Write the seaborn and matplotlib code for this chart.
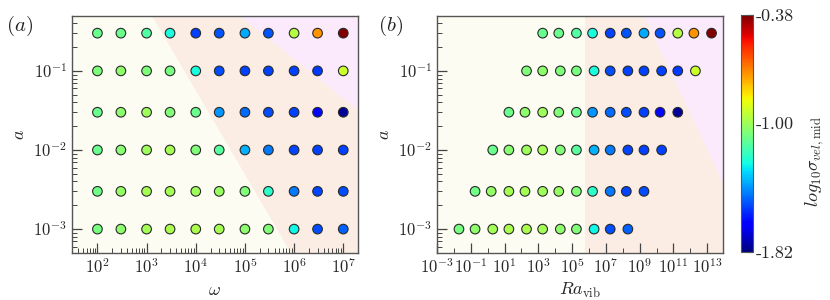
import numpy as np
import pandas as pd
import matplotlib
matplotlib.use("Agg")
import matplotlib.pyplot as plt
import seaborn as sns
from matplotlib.ticker import FixedLocator, FuncFormatter, NullFormatter
from matplotlib.colors import Normalize
from matplotlib.cm import ScalarMappable

# ---------------- data ----------------
omega = [1e2, 3e2, 1e3, 3e3, 1e4, 3e4, 1e5, 3e5, 1e6, 3e6, 1e7]
amp = [3e-1, 1e-1, 3e-2, 1e-2, 3e-3, 1e-3]

ra_row_03 = [1.8e3, 1.62e4, 1.8e5, 1.62e6, 1.8e7, 1.62e8, 1.8e9, 1.62e10, 1.8e11, 1.62e12, 1.8e13]
ra_row_01 = [2e2, 1.8e3, 2e4, 1.8e5, 2e6, 1.8e7, 2e8, 1.8e9, 2e10, 1.8e11, 2e12]
ra_row_003 = [1.8e1, 1.62e2, 1.8e3, 1.62e4, 1.8e5, 1.62e6, 1.8e7, 1.62e8, 1.8e9, 1.62e10, 1.8e11]
ra_row_001 = [2e0, 1.8e1, 2e2, 1.8e3, 2e4, 1.8e5, 2e6, 1.8e7, 2e8, 1.8e9, 2e10]
ra_row_0003 = [1.8e-1, 1.62e0, 1.8e1, 1.62e2, 1.8e3, 1.62e4, 1.8e5, 1.62e6, 1.8e7, 1.62e8, 1.8e9]
ra_row_0001 = [2e-2, 1.8e-1, 2e0, 1.8e1, 2e2, 1.8e3, 2e4, 1.8e5, 2e6, 1.8e7, 2e8]
ra_vib = [ra_row_03, ra_row_01, ra_row_003, ra_row_001, ra_row_0003, ra_row_0001]

sig_row_03 = [-1.13, -1.13, -1.17, -1.27, -1.55, -1.52, -1.40, -1.52, -1.00, -0.74, -0.38]
sig_row_01 = [-1.10, -1.07, -1.10, -1.11, -1.27, -1.53, -1.55, -1.55, -1.55, -1.56, -0.96]
sig_row_003 = [-1.13, -1.07, -1.04, -1.09, -1.13, -1.43, -1.49, -1.53, -1.55, -1.63, -1.79]
sig_row_001 = [-1.13, -1.08, -1.04, -1.03, -1.09, -1.16, -1.39, -1.47, -1.54, -1.55, -1.55]
sig_row_0003 = [-1.12, -1.06, -1.03, -1.03, -1.04, -1.05, -1.09, -1.24, -1.47, -1.54, -1.53]
sig_row_0001 = [-1.11, -1.07, -1.03, -1.02, -1.02, -1.03, -1.07, -1.09, -1.29, -1.53, -1.50]
sigma = [sig_row_03, sig_row_01, sig_row_003, sig_row_001, sig_row_0003, sig_row_0001]

vmin, vmax = -1.82, -0.38
cbar_ticks = [-1.82, -1.63, -1.43, -1.23, -1.035, -0.84, -0.64, -0.44, -0.38]
cbar_labels = ["-1.82", "", "", "", "-1.00", "", "", "", "-0.38"]

rows = []
for i, a in enumerate(amp):
    for j, w in enumerate(omega):
        rows.append({"omega": w, "a": a, "ra": ra_vib[i][j], "sigma": sigma[i][j]})
df = pd.DataFrame(rows)

# ---------------- style ----------------
sns.set_style("ticks")
plt.rcParams["mathtext.fontset"] = "cm"
plt.rcParams["font.family"] = ["DejaVu Serif"]
plt.rcParams["axes.unicode_minus"] = True

jet = matplotlib.colormaps["jet"]

fig = plt.figure(figsize=(8.3, 3.0), dpi=100)
axA = fig.add_axes([0.0864, 0.157, 0.345, 0.791])
axB = fig.add_axes([0.5265, 0.157, 0.345, 0.791])
cax = fig.add_axes([0.893, 0.16, 0.0145, 0.79])

col_yellow = "#fdfcf3"
col_salmon = "#fcede4"
col_violet = "#fbeafb"

norm = Normalize(vmin=vmin, vmax=vmax)
ylim = (5e-4, 0.5)

def sci(v, pos):
    e = int(round(np.log10(v)))
    return r"$10^{%d}$" % e

def style_axis(ax):
    ax.set_xscale("log")
    ax.set_yscale("log")
    for s in ax.spines.values():
        s.set_color("#555555")
        s.set_linewidth(1.0)
    ax.tick_params(which="both", direction="in", top=False, right=False,
                   color="#444444", labelsize=12)
    ax.tick_params(which="major", length=7, width=0.9)
    ax.tick_params(which="minor", length=3.5, width=0.7)
    ax.set_ylim(*ylim)
    ax.yaxis.set_major_locator(FixedLocator([1e-3, 1e-2, 1e-1]))
    ax.yaxis.set_major_formatter(FuncFormatter(sci))
    ym = [m * 10.0 ** e for e in (-4, -3, -2, -1) for m in range(2, 10)]
    ax.yaxis.set_minor_locator(FixedLocator(ym))
    ax.yaxis.set_minor_formatter(NullFormatter())

# ---------------- panel (a) ----------------
style_axis(axA)
xa = (30, 2e7)
axA.set_xlim(*xa)
axA.fill([xa[0], xa[0], 10**3.11, 10**5.94], [ylim[0], ylim[1], ylim[1], ylim[0]],
         color=col_yellow, lw=0, zorder=0)
axA.fill([10**3.11, xa[1], xa[1], 10**5.94], [ylim[1], ylim[1], ylim[0], ylim[0]],
         color=col_salmon, lw=0, zorder=0)
axA.fill([10**4.90, xa[1], xa[1]], [ylim[1], ylim[1], 10**-1.49],
         color=col_violet, lw=0, zorder=0)
sns.scatterplot(data=df, x="omega", y="a", hue="sigma", palette=jet, hue_norm=norm,
                s=48, edgecolor="#2a2a2a", linewidth=0.8, legend=False, ax=axA, zorder=3)
axA.set_xlim(*xa)
axA.set_ylim(*ylim)
axA.xaxis.set_major_locator(FixedLocator([1e2, 1e3, 1e4, 1e5, 1e6, 1e7]))
axA.xaxis.set_major_formatter(FuncFormatter(sci))
xm = [m * 10.0 ** e for e in range(1, 8) for m in range(2, 10)]
axA.xaxis.set_minor_locator(FixedLocator(xm))
axA.xaxis.set_minor_formatter(NullFormatter())
axA.set_xlabel(r"$\omega$", fontsize=13, labelpad=3)
axA.set_ylabel("$a$", fontsize=13, labelpad=4)
fig.text(0.024, 0.915, "$(a)$", fontsize=15, ha="center", va="center")

# ---------------- panel (b) ----------------
style_axis(axB)
xb = (1e-3, 9e13)
axB.set_xlim(*xb)
xs = 10**5.74
axB.fill([xb[0], xb[0], xs, xs], [ylim[0], ylim[1], ylim[1], ylim[0]],
         color=col_yellow, lw=0, zorder=0)
axB.fill([xs, xs, xb[1], xb[1]], [ylim[0], ylim[1], ylim[1], ylim[0]],
         color=col_salmon, lw=0, zorder=0)
axB.fill([10**9.23, xb[1], xb[1]], [ylim[1], ylim[1], 10**-2.42],
         color=col_violet, lw=0, zorder=0)
sns.scatterplot(data=df, x="ra", y="a", hue="sigma", palette=jet, hue_norm=norm,
                s=48, edgecolor="#2a2a2a", linewidth=0.8, legend=False, ax=axB, zorder=3)
axB.set_xlim(*xb)
axB.set_ylim(*ylim)
axB.xaxis.set_major_locator(FixedLocator([10.0 ** e for e in range(-3, 14, 2)]))
axB.xaxis.set_major_formatter(FuncFormatter(sci))
axB.xaxis.set_minor_locator(FixedLocator([10.0 ** e for e in range(-2, 14, 2)]))
axB.xaxis.set_minor_formatter(NullFormatter())
axB.set_xlabel(r"$Ra_{\mathrm{vib}}$", fontsize=13, labelpad=3)
axB.set_ylabel("$a$", fontsize=13, labelpad=4)
fig.text(0.470, 0.915, "$(b)$", fontsize=15, ha="center", va="center")

# ---------------- colorbar ----------------
sm = ScalarMappable(norm=norm, cmap=jet)
cb = fig.colorbar(sm, cax=cax)
cb.set_ticks(cbar_ticks)
cb.set_ticklabels(cbar_labels)
cb.ax.tick_params(direction="in", length=4, width=0.8, color="#222222", labelsize=13, pad=2)
for lab in cb.ax.get_yticklabels():
    lab.set_fontfamily("cmr10")
cb.outline.set_edgecolor("#555555")
cb.outline.set_linewidth(0.8)
cb.ax.minorticks_off()
fig.text(0.982, 0.46, r"$log_{10}\sigma_{vel,\mathrm{mid}}$", rotation=90,
         fontsize=13, ha="center", va="center")

fig.savefig("out.png", dpi=100)
